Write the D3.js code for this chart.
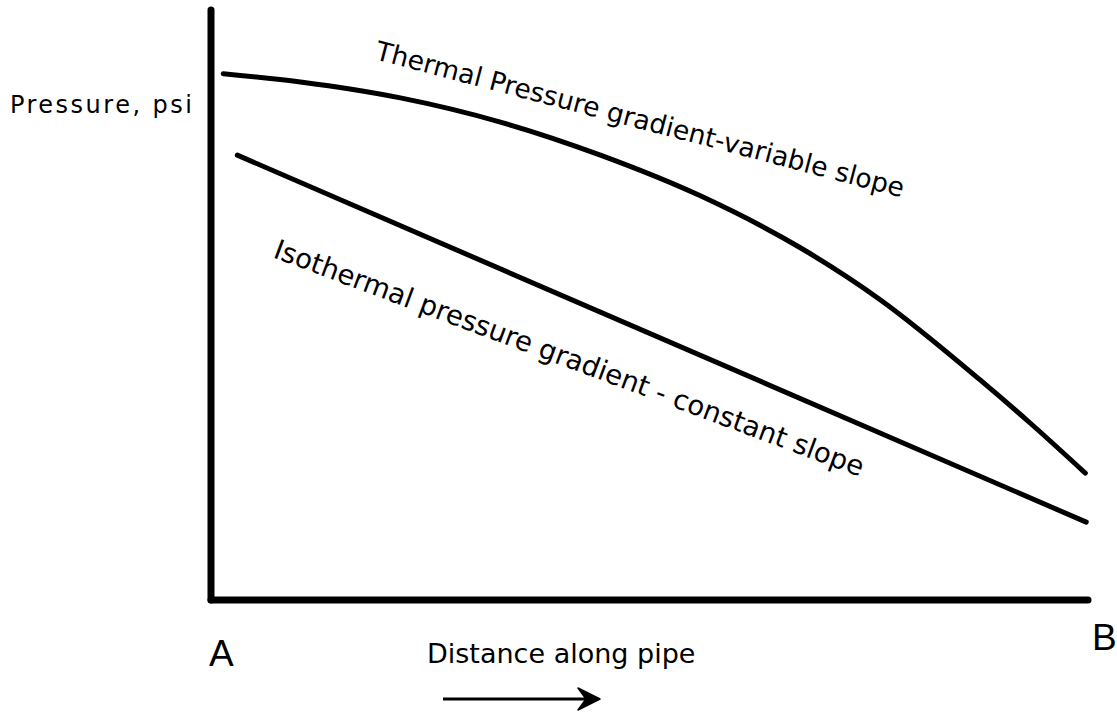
<!DOCTYPE html>
<html>
<head>
<meta charset="utf-8">
<script src="https://cdn.jsdelivr.net/npm/d3@7"></script>
<style>
  html, body { margin: 0; padding: 0; background: #fff; }
  svg { display: block; }
  text { font-family: "DejaVu Sans", Verdana, sans-serif; fill: #000; }
</style>
</head>
<body>
<svg id="chart" width="1117" height="712"></svg>
<script>
// ---- data ----
const axisDomain = [0, 100];                // distance A..B, pressure (relative)
const thermalDistance = [1.4, 10.2, 21.6, 33.0, 44.4, 55.8, 67.2, 76.3, 87.7, 93.4, 99.7];
const thermalPressure = [89.2, 87.8, 85.1, 81.0, 75.4, 68.5, 59.7, 50.9, 37.3, 30.0, 21.5];
const isoDistance = [3.0, 99.8];
const isoPressure = [75.4, 13.2];
const yLabel = "Pressure, psi";
const xLabel = "Distance along pipe";
const endLabels = ["A", "B"];
const thermalLabel = "Thermal Pressure gradient-variable slope";
const isoLabel = "Isothermal pressure gradient - constant slope";

const svg = d3.select("#chart");
const x = d3.scaleLinear().domain(axisDomain).range([211, 1088]);
const y = d3.scaleLinear().domain(axisDomain).range([600, 10]);

// axes
const axisG = svg.append("g").attr("stroke", "#000").attr("stroke-width", 7).attr("stroke-linecap", "round");
axisG.append("line").attr("x1", x(0)).attr("y1", y(0)).attr("x2", x(0)).attr("y2", y(100));
axisG.append("line").attr("x1", x(0)).attr("y1", y(0)).attr("x2", x(100)).attr("y2", y(0));

// thermal curve
const thermal = thermalDistance.map((d, i) => [d, thermalPressure[i]]);
svg.append("path")
  .datum(thermal)
  .attr("fill", "none").attr("stroke", "#000").attr("stroke-width", 5).attr("stroke-linecap", "round")
  .attr("d", d3.line().x(d => x(d[0])).y(d => y(d[1])).curve(d3.curveMonotoneX));

// isothermal line
const iso = isoDistance.map((d, i) => [d, isoPressure[i]]);
svg.append("path")
  .datum(iso)
  .attr("fill", "none").attr("stroke", "#000").attr("stroke-width", 5).attr("stroke-linecap", "round")
  .attr("d", d3.line().x(d => x(d[0])).y(d => y(d[1])));

// labels
svg.append("text").attr("x", 10).attr("y", 113).attr("font-size", 24)
  .attr("textLength", 182).attr("lengthAdjust", "spacing").text(yLabel);

svg.append("text").attr("x", x(0) - 2).attr("y", 666).attr("font-size", 37)
  .style("font-family", "'Liberation Sans', Arial, sans-serif").text(endLabels[0]);
svg.append("text").attr("x", x(100) + 4).attr("y", 650).attr("font-size", 37)
  .style("font-family", "'Liberation Sans', Arial, sans-serif").text(endLabels[1]);

svg.append("text").attr("x", 427).attr("y", 663).attr("font-size", 27).text(xLabel);

svg.append("text").attr("transform", "translate(374,59) rotate(14.7)")
  .attr("font-size", 26.5).text(thermalLabel);
svg.append("text").attr("transform", "translate(272,257) rotate(20.5)")
  .attr("font-size", 27.5).text(isoLabel);

// direction arrow
const ay = 699;
svg.append("line").attr("x1", 443).attr("y1", ay).attr("x2", 596).attr("y2", ay)
  .attr("stroke", "#000").attr("stroke-width", 3);
svg.append("path")
  .attr("d", `M600,${ay} L578,${ay - 11} L586,${ay} L578,${ay + 11} Z`)
  .attr("fill", "#000").attr("stroke", "#000").attr("stroke-width", 1.5).attr("stroke-linejoin", "round");
</script>
</body>
</html>
